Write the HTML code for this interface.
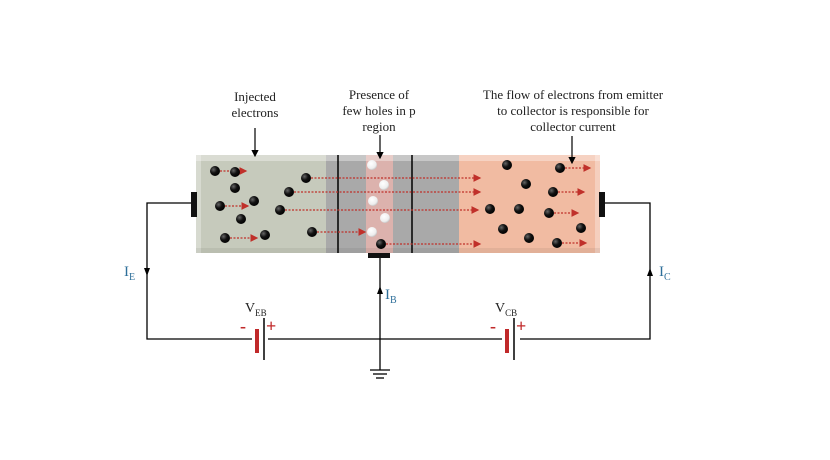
<!DOCTYPE html>
<html><head><style>
html,body{margin:0;padding:0;background:#fff;}
svg{display:block;}
text{font-family:"Liberation Serif",serif;}
</style></head><body>
<svg width="830" height="460" viewBox="0 0 830 460" xmlns="http://www.w3.org/2000/svg">
<defs>
<radialGradient id="e" cx="0.35" cy="0.35" r="0.7"><stop offset="0" stop-color="#666"/><stop offset="0.5" stop-color="#111"/><stop offset="1" stop-color="#000"/></radialGradient>
<radialGradient id="h" cx="0.4" cy="0.35" r="0.7"><stop offset="0" stop-color="#fff"/><stop offset="0.7" stop-color="#eee"/><stop offset="1" stop-color="#bbb"/></radialGradient>
<marker id="ar" markerWidth="6" markerHeight="6" refX="5" refY="3" orient="auto"><path d="M0,0 L6,3 L0,6z" fill="#c0302a"/></marker>
<marker id="ak" markerWidth="6" markerHeight="6" refX="5" refY="3" orient="auto"><path d="M0,0 L6,3 L0,6z" fill="#000"/></marker>
</defs>
<!-- regions -->
<rect x="196" y="155" width="130" height="98" fill="#c6cabc"/>
<rect x="326" y="155" width="40" height="98" fill="#a9a9a9"/>
<rect x="366" y="155" width="27" height="98" fill="#dcb2ad"/>
<rect x="393" y="155" width="66" height="98" fill="#a9a9a9"/>
<rect x="459" y="155" width="141" height="98" fill="#f1bba2"/>
<!-- bevels -->
<rect x="196" y="155" width="404" height="6" fill="#fff" opacity="0.35"/>
<rect x="196" y="155" width="5" height="98" fill="#fff" opacity="0.3"/>
<rect x="595" y="155" width="5" height="98" fill="#fff" opacity="0.3"/>
<rect x="196" y="248" width="404" height="5" fill="#000" opacity="0.06"/>
<line x1="338" y1="155" x2="338" y2="253" stroke="#000" stroke-width="1.5"/>
<line x1="412" y1="155" x2="412" y2="253" stroke="#000" stroke-width="1.5"/>
<!-- electrodes -->
<rect x="191" y="192" width="6" height="25" fill="#111"/>
<rect x="599" y="192" width="6" height="25" fill="#111"/>
<rect x="368" y="253" width="22" height="5" fill="#111"/>
<!-- wires -->
<g stroke="#000" stroke-width="1.3" fill="none">
<polyline points="191,203 147,203 147,339 252,339"/>
<line x1="268" y1="339" x2="502" y2="339"/>
<polyline points="520,339 650,339 650,203 605,203"/>
<line x1="380" y1="258" x2="380" y2="370"/>
<line x1="370" y1="370" x2="390" y2="370"/>
<line x1="373" y1="374" x2="387" y2="374"/>
<line x1="376" y1="378" x2="384" y2="378"/>
</g>
<!-- current arrows -->
<path d="M144,268 L150,268 L147,276z" fill="#000"/>
<path d="M647,276 L653,276 L650,268z" fill="#000"/>
<path d="M377,294 L383,294 L380,286z" fill="#000"/>
<!-- batteries -->
<line x1="257" y1="329" x2="257" y2="353" stroke="#c0292a" stroke-width="4"/>
<line x1="264" y1="318" x2="264" y2="360" stroke="#000" stroke-width="1.5"/>
<line x1="507" y1="329" x2="507" y2="353" stroke="#c0292a" stroke-width="4"/>
<line x1="514" y1="318" x2="514" y2="360" stroke="#000" stroke-width="1.5"/>
<g fill="#c0292a" font-size="18" font-family="Liberation Sans,sans-serif" font-weight="bold">
<text x="240" y="332" font-family="Liberation Sans,sans-serif">-</text>
<text x="266" y="332" font-family="Liberation Sans,sans-serif">+</text>
<text x="490" y="332" font-family="Liberation Sans,sans-serif">-</text>
<text x="516" y="332" font-family="Liberation Sans,sans-serif">+</text>
</g>
<!-- red dashed arrows -->
<g stroke="#c0302a" stroke-width="1.3" stroke-dasharray="2,1.5" marker-end="url(#ar)">
<line x1="220" y1="171" x2="246" y2="171"/>
<line x1="225" y1="206" x2="248" y2="206"/>
<line x1="230" y1="238" x2="257" y2="238"/>
<line x1="311" y1="178" x2="480" y2="178"/>
<line x1="294" y1="192" x2="480" y2="192"/>
<line x1="285" y1="210" x2="478" y2="210"/>
<line x1="317" y1="232" x2="365" y2="232"/>
<line x1="386" y1="244" x2="480" y2="244"/>
<line x1="565" y1="168" x2="590" y2="168"/>
<line x1="558" y1="192" x2="584" y2="192"/>
<line x1="554" y1="213" x2="578" y2="213"/>
<line x1="562" y1="243" x2="586" y2="243"/>
</g>
<!-- electrons -->
<g fill="url(#e)">
<circle cx="215" cy="171" r="5"/><circle cx="235" cy="172" r="5"/><circle cx="235" cy="188" r="5"/>
<circle cx="220" cy="206" r="5"/><circle cx="254" cy="201" r="5"/><circle cx="241" cy="219" r="5"/>
<circle cx="225" cy="238" r="5"/><circle cx="265" cy="235" r="5"/><circle cx="306" cy="178" r="5"/>
<circle cx="289" cy="192" r="5"/><circle cx="280" cy="210" r="5"/><circle cx="312" cy="232" r="5"/>
<circle cx="381" cy="244" r="5"/>
<circle cx="507" cy="165" r="5"/><circle cx="526" cy="184" r="5"/><circle cx="490" cy="209" r="5"/>
<circle cx="519" cy="209" r="5"/><circle cx="560" cy="168" r="5"/><circle cx="553" cy="192" r="5"/>
<circle cx="549" cy="213" r="5"/><circle cx="503" cy="229" r="5"/><circle cx="529" cy="238" r="5"/>
<circle cx="581" cy="228" r="5"/><circle cx="557" cy="243" r="5"/>
</g>
<g fill="url(#h)">
<circle cx="372" cy="165" r="5"/><circle cx="384" cy="185" r="5"/><circle cx="373" cy="201" r="5"/>
<circle cx="385" cy="218" r="5"/><circle cx="372" cy="232" r="5"/>
</g>
<!-- label pointers -->
<g stroke="#000" stroke-width="1.2" marker-end="url(#ak)">
<line x1="255" y1="128" x2="255" y2="156"/>
<line x1="380" y1="135" x2="380" y2="158"/>
<line x1="572" y1="136" x2="572" y2="163"/>
</g>
<!-- texts -->
<g font-size="13" fill="#222" text-anchor="middle">
<text x="255" y="101">Injected</text>
<text x="255" y="117">electrons</text>
<text x="379" y="99">Presence of</text>
<text x="379" y="115">few holes in p</text>
<text x="379" y="131">region</text>
<text x="573" y="99">The flow of electrons from emitter</text>
<text x="573" y="115">to collector is responsible for</text>
<text x="573" y="131">collector current</text>
</g>
<g fill="#2e6f9a" font-size="15">
<text x="124" y="276">I<tspan font-size="10" dy="4">E</tspan></text>
<text x="659" y="276">I<tspan font-size="10" dy="4">C</tspan></text>
<text x="385" y="299">I<tspan font-size="10" dy="4">B</tspan></text>
</g>
<g fill="#222" font-size="14">
<text x="245" y="312">V<tspan font-size="9" dy="4">EB</tspan></text>
<text x="495" y="312">V<tspan font-size="9" dy="4">CB</tspan></text>
</g>
</svg>
</body></html>
